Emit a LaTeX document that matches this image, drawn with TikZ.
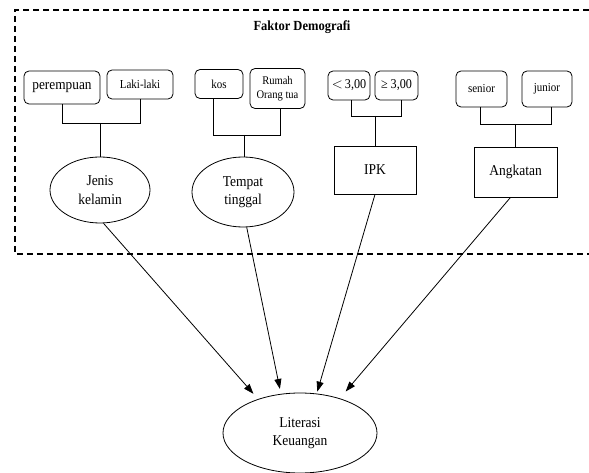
\documentclass[tikz,border=0pt]{standalone}
\usepackage{fontspec}
\setmainfont[FakeStretch=0.9]{Liberation Serif}
\usetikzlibrary{arrows.meta,shapes.geometric}
\tikzset{
  opt/.style={draw,rounded corners=5pt,line width=0.8pt,inner sep=0pt,align=center,font=\fontsize{12.2}{13.5}\selectfont},
  big/.style={font=\fontsize{15}{18.5}\selectfont},
  oval/.style={draw,ellipse,line width=0.8pt,inner sep=0pt,align=center,big},
  sq/.style={draw,rectangle,line width=0.8pt,inner sep=0pt,align=center,big},
  link/.style={line width=0.8pt},
  arr/.style={line width=0.8pt,-{Triangle[length=10pt,width=7pt]}},
  frame/.style={line width=1.3pt,dash pattern=on 6pt off 4pt}
}
\begin{document}
\begin{tikzpicture}[x=1pt,y=-1pt]
\useasboundingbox (0,0) rectangle (589,473);
\draw[frame] (589,10) -- (15,10) -- (15,254) -- (589,254);
\node[font=\fontsize{13.9}{15}\selectfont\bfseries] (title) at (302,27) {Faktor Demografi};

\node[opt,minimum width=76pt,minimum height=33pt,font=\fontsize{14.8}{15}\selectfont] (per) at (62,87.5) {perempuan};
\node[opt,minimum width=66pt,minimum height=29pt] (lak) at (140,84.5) {Laki-laki};
\node[opt,minimum width=48pt,minimum height=29pt] (kos) at (219,84) {kos};
\node[opt,minimum width=55pt,minimum height=40pt,font=\fontsize{11.7}{14}\selectfont] (rum) at (277.5,88.5) {Rumah\\Orang tua};
\node[opt,minimum width=42pt,minimum height=29pt,font=\fontsize{13.5}{14}\selectfont] (lt) at (349,85.5) {$<$\,3,00};
\node[opt,minimum width=43pt,minimum height=29pt,font=\fontsize{13.5}{14}\selectfont] (ge) at (396.5,85.5) {≥ 3,00};
\node[opt,minimum width=51pt,minimum height=36pt] (sen) at (481.5,89) {senior};
\node[opt,minimum width=50pt,minimum height=36pt] (jun) at (547,89) {junior};

\node[oval,minimum width=100pt,minimum height=66pt] (jen) at (100,190) {Jenis\\kelamin};
\node[oval,minimum width=102pt,minimum height=70pt] (tem) at (243,192) {Tempat\\tinggal};
\node[sq,minimum width=82pt,minimum height=48pt] (ipk) at (375,170) {IPK};
\node[sq,minimum width=83pt,minimum height=50pt] (ang) at (515.5,172) {Angkatan};
\node[oval,minimum width=154pt,minimum height=80pt] (lit) at (300,433) {Literasi\\Keuangan};

\coordinate (j1) at (100,123);
\coordinate (j2) at (244,135);
\coordinate (j3) at (375,116);
\coordinate (j4) at (515,124);

\draw[link] (per.south) -- (per.south |- j1) -- (lak.south |- j1) -- (lak.south);
\draw[link] (j1) -- (jen.north);
\draw[link] ([xshift=-6pt]kos.south) -- ([xshift=-6pt]kos.south |- j2) -- ([xshift=2.5pt]rum.south |- j2) -- ([xshift=2.5pt]rum.south);
\draw[link] (j2) -- (j2 |- tem.north);
\draw[link] ([xshift=2pt]lt.south) -- ([xshift=2pt]lt.south |- j3) -- ([xshift=4.5pt]ge.south |- j3) -- ([xshift=4.5pt]ge.south);
\draw[link] (j3) -- (ipk.north);
\draw[link] ([xshift=-1.5pt]sen.south) -- ([xshift=-1.5pt]sen.south |- j4) -- ([xshift=4pt]jun.south |- j4) -- ([xshift=4pt]jun.south);
\draw[link] (j4) -- (j4 |- ang.north);

\draw[arr,shorten >=7pt] (jen.-84) -- (lit.141);
\draw[arr,shorten >=5pt] (tem.-84) -- (lit.116);
\draw[arr,shorten >=2pt] (ipk.south) -- (lit.67.5);
\draw[arr,shorten >=9pt] ([xshift=-5pt]ang.south) -- (lit.41);
\end{tikzpicture}
\end{document}
